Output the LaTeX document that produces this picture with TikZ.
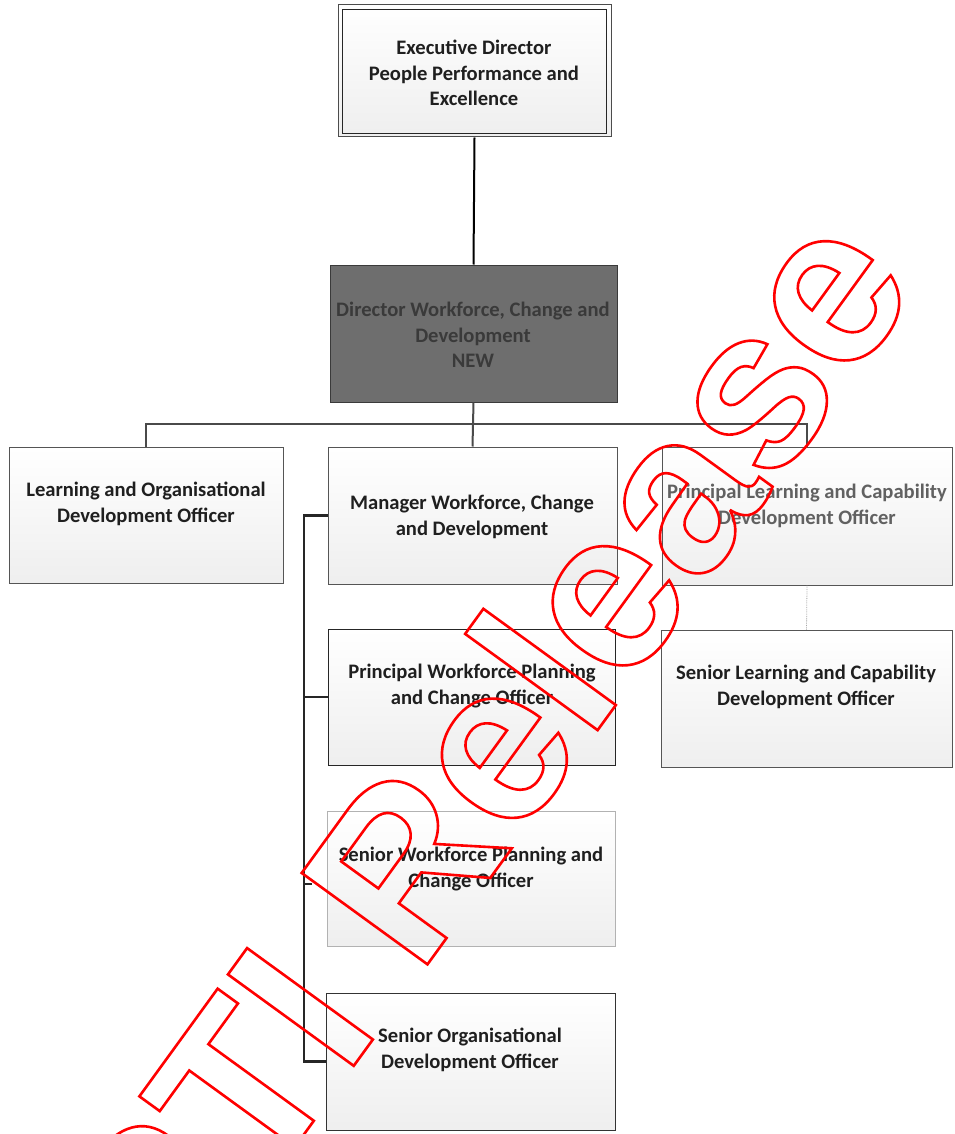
\documentclass[tikz,border=0pt]{standalone}
\usepackage{fontspec}
\setmainfont{Carlito}
\newfontfamily\wmfont{Liberation Sans}
\definecolor{dirfill}{HTML}{6E6E6E}
\definecolor{dirtext}{HTML}{3A3A3A}
\definecolor{linegrey}{HTML}{4A4A4A}
\definecolor{boxedge}{HTML}{555555}
\begin{document}
\begin{tikzpicture}[x=1pt,y=-1pt,
  box/.style={draw=boxedge, line width=1pt, inner sep=0pt, top color=white, bottom color=gray!13},
  txt/.style={align=center, font=\bfseries\fontsize{20.6}{25.5}\selectfont, inner sep=0pt, text=black!88},
  conn/.style={draw=linegrey, line width=2pt},
  spine/.style={draw=black!85, line width=2.6pt},
]
\useasboundingbox (0,0) rectangle (954,1134);
\clip (0,0) rectangle (954,1134);
\fill[white] (0,0) rectangle (954,1134);

% boxes
\node[box, draw=black!70, line width=1pt,
      minimum width=273pt, minimum height=132pt] (exec) at (474.5,71) {};
\draw[draw=black!85, line width=1pt] ([shift={(5,5)}]exec.north west) rectangle ([shift={(-5,-4)}]exec.south east);
\node[draw=dirtext, line width=1pt, fill=dirfill, inner sep=0pt,
      minimum width=287pt, minimum height=137pt] (dir) at (473.5,333.5) {};
\node[box, minimum width=274pt, minimum height=136pt] (lod) at (146,515) {};
\node[box, minimum width=289pt, minimum height=137pt] (mgr) at (472.5,515.5) {};
\node[box, minimum width=290pt, minimum height=138pt] (plcd) at (807,516) {};
\node[box, minimum width=291pt, minimum height=137pt] (slcd) at (806.5,698.5) {};
\node[box, draw=black!85, minimum width=287pt, minimum height=136pt] (pwpc) at (471.5,697) {};
\node[box, draw=gray!60, minimum width=288pt, minimum height=135pt] (swpc) at (471,878.5) {};
\node[box, draw=black!80, minimum width=289pt, minimum height=137pt] (sod) at (470.5,1061.5) {};

% texts
\node[txt] (t-exec) at (474,73) {Executive Director\\People Performance and\\Excellence};
\node[txt, text=dirtext] (t-dir) at (473,335) {Director Workforce, Change and\\Development\\NEW};
\node[txt] (t-lod) at (146,504) {Learning and Organisational\\Development Officer};
\node[txt] (t-mgr) at (472,517) {Manager Workforce, Change\\and Development};
\node[txt, text=black!62] (t-plcd) at (807,506) {Principal Learning and Capability\\Development Officer};
\node[txt] (t-slcd) at (806,687) {Senior Learning and Capability\\Development Officer};
\node[txt] (t-pwpc) at (472,686) {Principal Workforce Planning\\and Change Officer};
\node[txt] (t-swpc) at (471,869) {Senior Workforce Planning and\\Change Officer};
\node[txt] (t-sod) at (470,1050) {Senior Organisational\\Development Officer};

% connectors
\coordinate (bus) at (474,424);
\coordinate (sp) at (304,515.5);
\draw[draw=black, line width=2pt] (exec.south) -- (dir.north);
\draw[conn] (dir.south) -- (mgr.north);
\draw[conn] (lod.north) |- (bus) -| (plcd.north);
\draw[draw=gray!70, line width=0.8pt, densely dotted] (plcd.south) -- (slcd.north);
\draw[spine] (mgr.west) -- (sp) |- (sod.west);
\draw[spine] (sp |- pwpc.west) -- (pwpc.west);
\coordinate (stub) at (312,884);
\draw[spine] (sp |- stub) -- (stub);

% watermark (outlined text)
\node[rotate=54, inner sep=0pt, text=red] (wm) at (479,756)
  {\wmfont\bfseries\fontsize{226}{226}\selectfont
   \special{pdf:literal direct 1 Tr 2.6 w}RTI Release\special{pdf:literal direct 0 Tr}};
\end{tikzpicture}
\end{document}
